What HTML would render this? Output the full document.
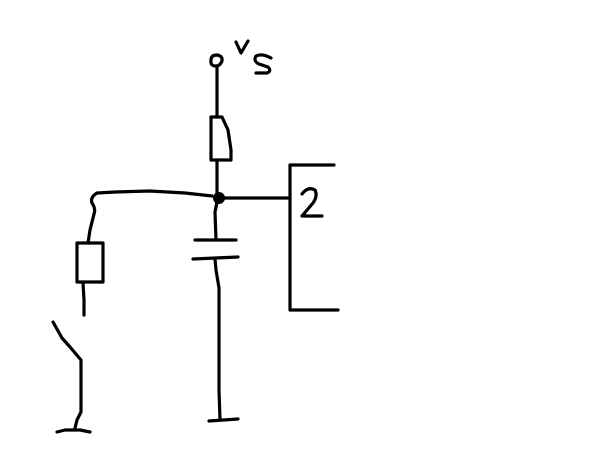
<!DOCTYPE html>
<html><head><style>html,body{margin:0;padding:0;background:#fff;}svg{display:block}</style></head>
<body>
<svg width="601" height="452" viewBox="0 0 601 452" xmlns="http://www.w3.org/2000/svg">
<g fill="none" stroke="#000" stroke-width="3.2" stroke-linecap="round" stroke-linejoin="round">
<path d="M211,60 q0,-5 6,-5 q6,1 5,6 q-2,5 -6,5 q-6,0 -5,-6z"/>
<path d="M217,67 L217,117"/>
<path d="M211,117 L222,117 L228,130 L231,150 L231,160 L211,160 Z"/>
<path d="M217,160 L217,193"/>
<path d="M222,198 L290,198"/>
<path d="M334,165 L290,165 L290,310 L338,310"/>
<path d="M212,196 L185,193 L150,191 L115,192 L97,193 Q90,197 92,203 Q96,209 94,214 L90,230 L88,243"/>
<path d="M77,243 L103,243 L103,282 L77,282 Z"/>
<path d="M83,283 L84,300 L84,315"/>
<path d="M217,202 L215,212 L216,240"/>
<path d="M195,240 L236,240"/>
<path d="M193,259 L238,257"/>
<path d="M215,259 L216,270 L219,288 L219,390 L220,420"/>
<path d="M209,421 L238,419"/>
<path d="M53,322 L62,338 L70,347 L81,360 L81,412 L77,420 L75,428"/>
<path d="M57,432 L65,430 L80,430 L90,432"/>
<path d="M236,42 L241,53 L248,41"/>
<path d="M271,58 Q262,53 256,56 Q253,61 259,64 L268,67 Q272,71 267,73 L256,73"/>
<path d="M302,194 Q308,186 315,190 Q318,196 313,203 L302,216 L322,216"/>
</g>
<circle cx="219" cy="198" r="6" fill="#000"/>
</svg>
</body></html>
